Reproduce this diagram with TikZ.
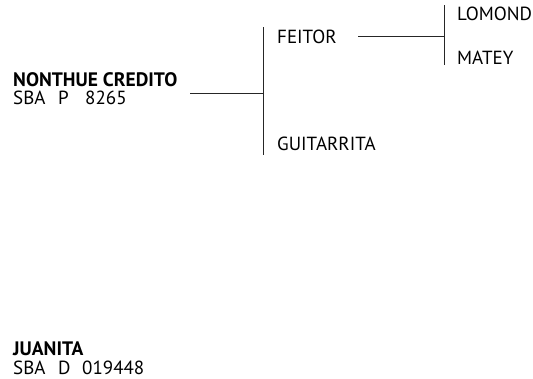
\documentclass[tikz,border=0pt]{standalone}
\usepackage{fontspec}
\setmainfont{PT Sans}
\usetikzlibrary{positioning}
\tikzset{
  horse-name/.style={inner sep=0pt,anchor=base west,font=\fontsize{19}{19}\selectfont},
  horse-main/.style={horse-name,font=\fontsize{19.5}{19.5}\selectfont\bfseries},
  horse-reg/.style={horse-name,font=\fontsize{19}{19}\selectfont},
  branch/.style={line width=1pt,draw=black!85},
}

\begin{document}
\begin{tikzpicture}[x=1pt,y=-1pt]
  \useasboundingbox (0,0) rectangle (533,378);
  % generation 1
  \node[horse-main] (root) at (13,86) {NONTHUE CREDITO};
  \node[horse-reg] (rootreg) at (13,104)
    {\makebox[45pt][l]{SBA}\makebox[27pt][l]{P}8265};
  % generation 2
  \node[horse-name] (sire) at (277,43) {FEITOR};
  \node[horse-name] (dam) at (277,150) {GUITARRITA};
  % generation 3
  \node[horse-name] (ssire) at (457,20) {LOMOND};
  \node[horse-name] (sdam) at (457,64) {MATEY};
  % other horse
  \node[horse-main] (other) at (13,355) {JUANITA};
  \node[horse-reg] (otherreg) at (13,374)
    {\makebox[45pt][l]{SBA}\makebox[24pt][l]{D}019448};
  % connectors
  \coordinate (r1) at (190,93);
  \coordinate (j1) at (263,93);
  \coordinate (b1t) at (263,27);
  \coordinate (b1b) at (263,155);
  \coordinate (s1) at (358,36);
  \coordinate (j2) at (444,36);
  \coordinate (b2t) at (444,5);
  \coordinate (b2b) at (444,65);
  \draw[branch] (r1) -- (j1);
  \draw[branch] (b1t) -- (b1b);
  \draw[branch] (s1) -- (j2);
  \draw[branch] (b2t) -- (b2b);
\end{tikzpicture}
\end{document}
